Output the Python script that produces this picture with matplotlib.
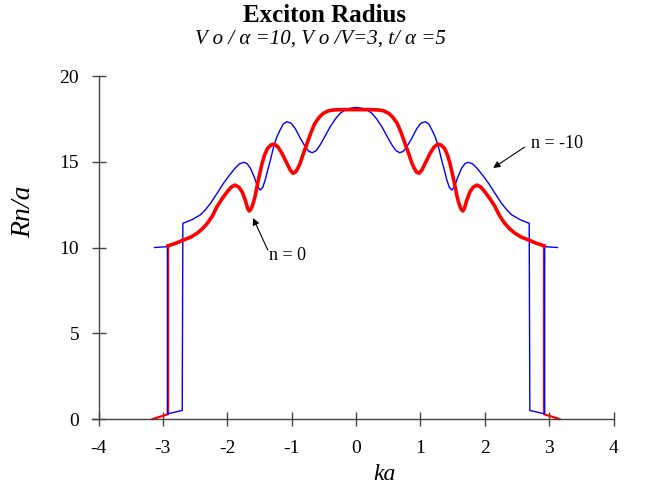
import matplotlib
matplotlib.use('Agg')
import matplotlib.pyplot as plt

# n = 0 curve (red)
ka_n0 = [-3.16, -2.92, -2.92, -2.80, -2.68, -2.57, -2.47, -2.39, -2.31, -2.23,
         -2.16, -2.08, -2.00, -1.94, -1.88, -1.82, -1.77, -1.72, -1.68, -1.66,
         -1.63, -1.60, -1.57, -1.52, -1.46, -1.42, -1.375, -1.32, -1.27, -1.21,
         -1.15, -1.08, -1.02, -0.98, -0.94, -0.90, -0.87, -0.82, -0.76, -0.70,
         -0.64, -0.57, -0.51, -0.43, -0.35, -0.20, 0.0,
         0.20, 0.35, 0.43, 0.51, 0.57, 0.64, 0.70, 0.76, 0.82, 0.87,
         0.90, 0.94, 0.98, 1.02, 1.08, 1.15, 1.21, 1.27, 1.32, 1.375,
         1.42, 1.46, 1.52, 1.57, 1.60, 1.63, 1.66, 1.68, 1.72, 1.77,
         1.82, 1.88, 1.94, 2.00, 2.08, 2.16, 2.23, 2.31, 2.39, 2.47,
         2.57, 2.68, 2.80, 2.92, 2.92, 3.16]
r_n0 = [0.0, 0.28, 10.1, 10.25, 10.44, 10.6, 10.83, 11.08, 11.41, 11.85,
        12.38, 12.85, 13.25, 13.52, 13.64, 13.52, 13.25, 12.75, 12.25, 12.13,
        12.25, 12.55, 12.96, 13.9, 14.9, 15.4, 15.78, 15.98, 16.03, 15.85,
        15.49, 14.95, 14.5, 14.33, 14.4, 14.65, 14.9, 15.45, 16.08, 16.7,
        17.24, 17.6, 17.82, 17.97, 18.02, 18.04, 18.04,
        18.04, 18.02, 17.97, 17.82, 17.6, 17.24, 16.7, 16.08, 15.45, 14.9,
        14.65, 14.4, 14.33, 14.5, 14.95, 15.49, 15.85, 16.03, 15.98, 15.78,
        15.4, 14.9, 13.9, 12.96, 12.55, 12.25, 12.13, 12.25, 12.75, 13.25,
        13.52, 13.64, 13.52, 13.25, 12.85, 12.38, 11.85, 11.41, 11.08, 10.83,
        10.6, 10.44, 10.25, 10.1, 0.28, 0.0]

# n = -10 curve (blue)
ka_n10 = [-3.13, -2.93, -2.93, -2.70, -2.69, -2.55, -2.42, -2.34, -2.26, -2.16,
          -2.06, -1.97, -1.88, -1.81, -1.74, -1.69, -1.64, -1.58, -1.53, -1.49,
          -1.45, -1.41, -1.385, -1.33, -1.28, -1.23, -1.18, -1.13, -1.075, -1.01,
          -0.946, -0.87, -0.79, -0.73, -0.677, -0.62, -0.558, -0.48, -0.40, -0.32,
          -0.248, -0.17, -0.093, 0.0,
          0.093, 0.17, 0.248, 0.32, 0.40, 0.48, 0.558, 0.62, 0.677, 0.73,
          0.79, 0.87, 0.946, 1.01, 1.075, 1.13, 1.18, 1.23, 1.28, 1.33,
          1.385, 1.41, 1.45, 1.49, 1.53, 1.58, 1.64, 1.69, 1.74, 1.81,
          1.88, 1.97, 2.06, 2.16, 2.26, 2.34, 2.42, 2.55, 2.69, 2.70,
          2.93, 2.93, 3.13]
r_n10 = [10.0, 10.05, 0.3, 0.5, 11.41, 11.62, 11.9, 12.2, 12.58, 13.15,
         13.74, 14.2, 14.62, 14.88, 14.97, 14.88, 14.62, 14.1, 13.55, 13.35,
         13.5, 13.95, 14.33, 15.1, 15.88, 16.45, 16.85, 17.2, 17.34, 17.25,
         16.95, 16.4, 15.88, 15.6, 15.53, 15.65, 15.98, 16.5, 17.05, 17.5,
         17.82, 18.02, 18.12, 18.17,
         18.12, 18.02, 17.82, 17.5, 17.05, 16.5, 15.98, 15.65, 15.53, 15.6,
         15.88, 16.4, 16.95, 17.25, 17.34, 17.2, 16.85, 16.45, 15.88, 15.1,
         14.33, 13.95, 13.5, 13.35, 13.55, 14.1, 14.62, 14.88, 14.97, 14.88,
         14.62, 14.2, 13.74, 13.15, 12.58, 12.2, 11.9, 11.62, 11.41, 0.5,
         0.3, 10.05, 10.0]

xticks = [-4, -3, -2, -1, 0, 1, 2, 3, 4]
yticks = [0, 5, 10, 15, 20]

plt.rcParams['font.family'] = ['Liberation Serif', 'DejaVu Serif']

fig = plt.figure(figsize=(6.45, 4.87), dpi=100)
ax = fig.add_axes([0.1428, 0.1396, 0.8084, 0.7043])

red = '#ff0000'
blue = '#0000ff'
# thin outer pieces (jump and tail), thick inner band
ax.plot(ka_n0[:3], r_n0[:3], color=red, lw=1.6, clip_on=False)
ax.plot(ka_n0[-3:], r_n0[-3:], color=red, lw=1.6, clip_on=False)
ax.plot(ka_n10, r_n10, color=blue, lw=1.0, clip_on=False)
ax.plot(ka_n0[2:-2], r_n0[2:-2], color=red, lw=2.6, clip_on=False)

ax.set_xlim(-4.1, 4)
ax.set_ylim(0, 20)
ax.spines['left'].set_position(('data', -4))
ax.spines['top'].set_visible(False)
ax.spines['right'].set_visible(False)
for s in ['left', 'bottom']:
    ax.spines[s].set_color('#444444')
    ax.spines[s].set_linewidth(1.0)

ax.set_xticks(xticks)
ax.set_yticks(yticks)
ax.set_xticklabels([str(t) for t in xticks])
ax.set_yticklabels([str(t) for t in yticks])
ax.tick_params(axis='both', direction='inout', length=10, width=1.0,
               color='#444444', labelsize=14)
ax.tick_params(axis='x', pad=10)
ax.tick_params(axis='y', pad=9)

arrow = dict(arrowstyle='-|>', color='black', lw=0.8,
             mutation_scale=10, shrinkA=0, shrinkB=0)
ax.annotate('', xy=(-1.60, 11.72), xytext=(-1.37, 9.85), arrowprops=arrow)
ax.text(-1.07, 9.56, 'n = 0', ha='center', va='center', fontsize=13)
ax.annotate('', xy=(2.13, 14.64), xytext=(2.62, 15.86), arrowprops=arrow)
ax.text(3.12, 16.09, 'n = -10', ha='center', va='center', fontsize=13)

fig.text(0.503, 1 - 15 / 487, 'Exciton Radius', ha='center', va='center',
         fontsize=18, fontweight='bold')
fig.text(0.497, 1 - 39 / 487, 'V o / \u03b1 =10, V o /V=3, t/ \u03b1 =5',
         ha='center', va='center', fontsize=15, style='italic')
fig.text(384 / 645, 1 - 474 / 487, 'ka', ha='center', va='center',
         fontsize=17, style='italic')
fig.text(24 / 645, 1 - 212 / 487, 'Rn/a', ha='center', va='center',
         fontsize=20, style='italic', rotation=90)

fig.savefig('out.png', dpi=100, facecolor='white')
